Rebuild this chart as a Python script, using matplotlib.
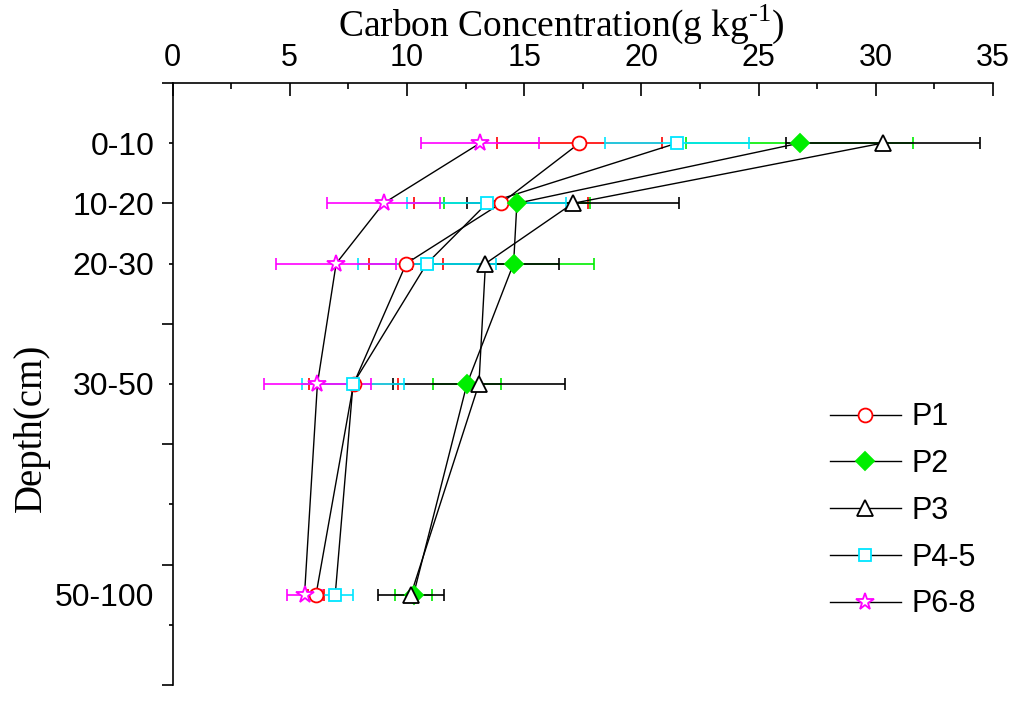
import matplotlib
matplotlib.use("Agg")
import matplotlib.pyplot as plt
from matplotlib.lines import Line2D

depth_labels = ["0-10", "10-20", "20-30", "30-50", "50-100"]
depth_pos = [1, 2, 3, 5, 8.5]

p1 = [17.36, 14.01, 9.97, 7.72, 6.12]
p1_err = [3.52, 3.70, 1.57, 1.88, 0.35]
p2 = [26.75, 14.69, 14.55, 12.56, 10.28]
p2_err = [4.83, 3.13, 3.44, 1.45, 0.77]
p3 = [30.29, 17.08, 13.35, 13.07, 10.17]
p3_err = [4.14, 4.52, 3.15, 3.66, 1.39]
p45 = [21.52, 13.41, 10.85, 7.70, 6.94]
p45_err = [3.06, 3.39, 2.95, 2.18, 0.75]
p68 = [13.12, 9.00, 6.98, 6.18, 5.63]
p68_err = [2.53, 2.42, 2.56, 2.28, 0.76]

series = [
    ("P1", p1, p1_err, "#ff0000", "o", "white", 10),
    ("P2", p2, p2_err, "#00ee00", "D", "#00ee00", 9),
    ("P3", p3, p3_err, "black", "^", "white", 11),
    ("P4-5", p45, p45_err, "#00e5ff", "s", "white", 9),
    ("P6-8", p68, p68_err, "#ff00ff", "*", "white", 13),
]

sans = "Liberation Sans"
serif = "Liberation Serif"
plt.rcParams["mathtext.fontset"] = "custom"
plt.rcParams["mathtext.rm"] = serif

fig = plt.figure(figsize=(10.24, 7.05), dpi=100)
ax = fig.add_axes([0.1685, 0.0284, 0.8012, 0.854])

handles = []
for name, vals, err, col, mk, fill, ms in series:
    ax.errorbar(vals, depth_pos, xerr=err, fmt="none", ecolor=col,
                elinewidth=1.2, capsize=4.5, capthick=1.2, zorder=2)
    ax.plot(vals, depth_pos, color="black", lw=1.0, zorder=3)
    ax.plot(vals, depth_pos, ls="none", marker=mk, ms=ms, mfc=fill,
            mec=col, mew=1.3, zorder=4)
    handles.append(Line2D([], [], color="black", lw=1.0, marker=mk, ms=ms,
                          mfc=fill, mec=col, mew=1.3, label=name))

ax.set_xlim(0, 35)
ax.set_ylim(10, 0)
ax.spines["right"].set_visible(False)
ax.spines["bottom"].set_visible(False)
ax.spines["top"].set_linewidth(1.2)
ax.spines["left"].set_linewidth(1.2)

ax.xaxis.tick_top()
ax.set_xticks(range(0, 36, 5))
ax.set_xticks([2.5 + 5 * i for i in range(7)], minor=True)
ax.tick_params(axis="x", which="major", direction="in", length=9.5,
               width=1.2, pad=7, labelsize=22)
ax.tick_params(axis="x", which="minor", direction="in", length=4.5,
               width=1.2)
for lab in ax.get_xticklabels():
    lab.set_fontfamily(sans)

ax.set_yticks(range(0, 11, 2))
ax.set_yticks(range(1, 10, 2), minor=True)
ax.tick_params(axis="y", which="major", direction="out", length=8,
               width=1.2, labelleft=False)
ax.tick_params(axis="y", which="minor", direction="out", length=3,
               width=1.2)

sec = ax.secondary_yaxis("left")
sec.set_yticks(depth_pos, depth_labels)
sec.tick_params(length=0, pad=13, labelsize=23)
sec.spines["left"].set_visible(False)
for lab in sec.get_yticklabels():
    lab.set_fontfamily(sans)

fig.text(561 / 1024, 1 - 24 / 705, r"Carbon Concentration(g kg$^{\text{-1}}$)",
         ha="center", va="center", fontsize=27, family=serif)
fig.text(31 / 1024, 1 - 428 / 705, "Depth(cm)", ha="center", va="center",
         rotation=90, fontsize=28, family=serif)

ax.legend(handles=handles, loc="upper left",
          bbox_to_anchor=(818 / 1024, 1 - 390 / 705),
          bbox_transform=fig.transFigure, frameon=False,
          prop={"family": sans, "size": 22}, handlelength=2.3,
          handletextpad=0.35, labelspacing=0.55, borderaxespad=0)

fig.savefig("out.png", dpi=100)
